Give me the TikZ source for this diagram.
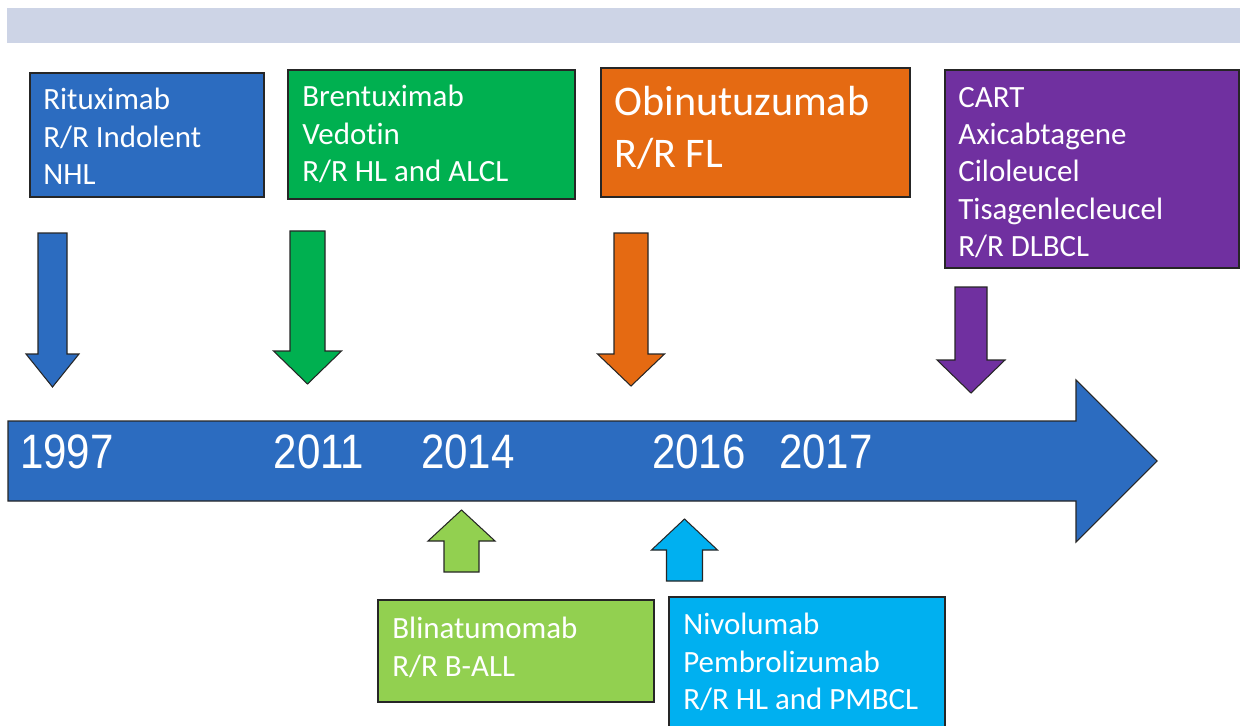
\documentclass[tikz,border=0pt]{standalone}
\usepackage{fontspec}
\setmainfont{Carlito}[Ligatures=NoCommon]
\newfontfamily\yearfont{Liberation Sans}
\usetikzlibrary{positioning}
\definecolor{bandgray}{RGB}{205,212,230}
\definecolor{lineblue}{RGB}{44,108,192}
\definecolor{rxgreen}{RGB}{0,176,80}
\definecolor{rxorange}{RGB}{229,106,18}
\definecolor{rxpurple}{RGB}{112,48,160}
\definecolor{rxlime}{RGB}{146,208,80}
\definecolor{rxcyan}{RGB}{0,176,240}

\tikzset{
  blk/.style={draw=black!85, line width=0.6pt},
  lbl/.style={text=white, align=left, inner sep=0pt, anchor=north west,
    font=\fontsize{17.6}{21.2}\selectfont},
  biglbl/.style={lbl, font=\fontsize{24}{29.5}\selectfont},
  year/.style={text=white, inner sep=0pt, xscale=0.87,
    font=\yearfont\fontsize{27.5}{33}\selectfont}
}

% block arrow: colour, x of axis, half shaft, shaft end, head base, half head, tip
\newcommand{\blockarrow}[7]{%
  \draw[blk, fill=#1] (#2-#3,#4) -- (#2+#3,#4) -- (#2+#3,#5) -- (#2+#6,#5)
    -- (#2,#7) -- (#2-#6,#5) -- (#2-#3,#5) -- cycle;}

\begin{document}
\begin{tikzpicture}[x=0.02cm, y=-0.02cm]
  \useasboundingbox (0,0) rectangle (1240,726);
  \fill[bandgray] (7,8) rectangle (1240,43);

  % timeline
  \draw[blk, fill=lineblue] (8,421) -- (1076,421) -- (1076,380) -- (1157,461)
    -- (1076,542) -- (1076,501) -- (8,501) -- cycle;
  \node[year] (y1997) at (67,452) {1997};
  \node[year] (y2011) at (319,452) {2011};
  \node[year] (y2014) at (468,452) {2014};
  \node[year] (y2016) at (699,452) {2016};
  \node[year] (y2017) at (826,452) {2017};

  % approvals above the line
  \draw[blk, fill=lineblue] (30,73) rectangle (264,197);
  \node[lbl] (ritux) at (43,88) {Rituximab\\R/R Indolent\\NHL};
  \blockarrow{lineblue}{52.5}{14.5}{233}{354}{26.5}{387}

  \draw[blk, fill=rxgreen] (288,70) rectangle (575,199);
  \node[lbl] (brent) at (302,85) {Brentuximab\\Vedotin\\R/R HL and ALCL};
  \blockarrow{rxgreen}{307.5}{17.5}{231}{351}{34}{384}

  \draw[blk, fill=rxorange] (601,68) rectangle (910,197);
  \node[biglbl] (obinu) at (614,86) {Obinutuzumab\\R/R FL};
  \blockarrow{rxorange}{631}{17}{233}{354}{33.5}{386}

  \draw[blk, fill=rxpurple] (945,70) rectangle (1239,268);
  \node[lbl] (cart) at (958,87) {CART\\Axicabtagene\\Ciloleucel\\Tisagenlecleucel\\R/R DLBCL};
  \blockarrow{rxpurple}{971}{16}{287}{360}{34}{393}

  % approvals below the line
  \blockarrow{rxlime}{461.5}{17.5}{572}{541}{33.5}{510}
  \draw[blk, fill=rxlime] (378,600) rectangle (654,702);
  \node[lbl] (blina) at (392,617) {Blinatumomab\\R/R B-ALL};

  \blockarrow{rxcyan}{684.5}{18}{581}{550}{33}{519}
  \fill[rxcyan] (669,597) rectangle (945,726);
  \draw[blk] (669,726) -- (669,597) -- (945,597) -- (945,726);
  \node[lbl] (nivo) at (683,613) {Nivolumab\\Pembrolizumab\\R/R HL and PMBCL};
\end{tikzpicture}
\end{document}
